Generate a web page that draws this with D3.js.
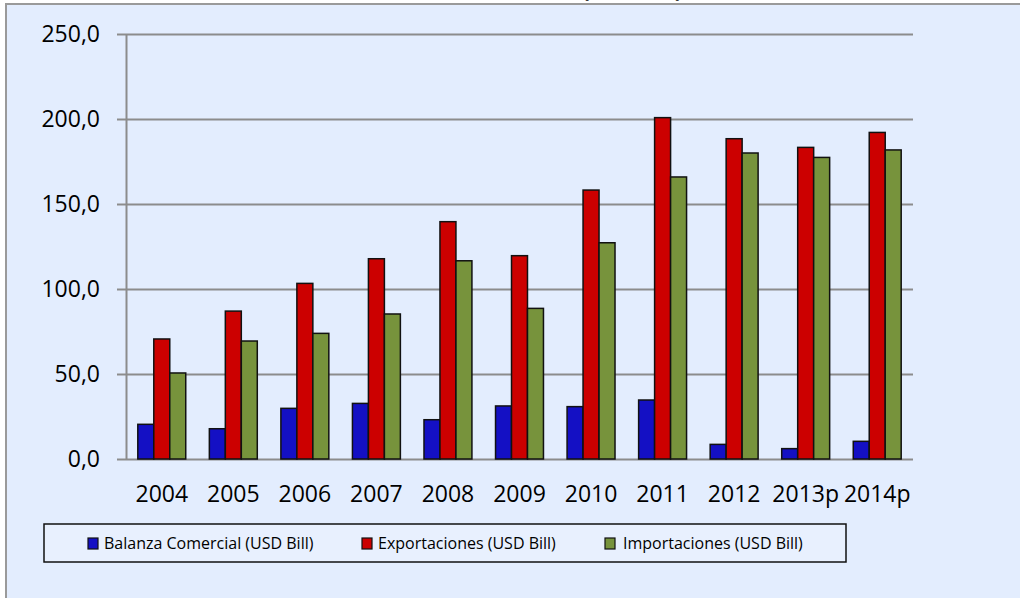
<!DOCTYPE html>
<html>
<head>
<meta charset="utf-8">
<script src="https://cdn.jsdelivr.net/npm/d3@7"></script>
<style>
  body { margin: 0; background: #ffffff; }
  text { font-family: "Open Sans", sans-serif; fill: #000; }
</style>
</head>
<body>
<div id="bar-chart-dataviz"></div>
<script>
// data
const years = ["2004", "2005", "2006", "2007", "2008", "2009", "2010", "2011", "2012", "2013p", "2014p"]
const balanza = [20.4, 17.8, 29.8, 32.7, 23.1, 31.2, 30.8, 34.7, 8.6, 6.1, 10.4]
const exportaciones = [70.6, 87.0, 103.3, 117.8, 139.6, 119.6, 158.2, 200.8, 188.4, 183.3, 192.1]
const importaciones = [50.6, 69.4, 73.9, 85.3, 116.6, 88.6, 127.2, 165.9, 180.0, 177.4, 181.8]
const seriesNames = ["Balanza Comercial (USD Bill)", "Exportaciones (USD Bill)", "Importaciones (USD Bill)"]
const yTicks = [0, 50, 100, 150, 200, 250]

const colors = ["#1410c4", "#cc0000", "#77933c"]
const series = [balanza, exportaciones, importaciones]

// set the dimensions and margins of the graph
const margin = {top: 34, right: 107, bottom: 139, left: 126}
const width = 1020 - margin.left - margin.right
const height = 598 - margin.top - margin.bottom

const svg = d3.select("#bar-chart-dataviz")
  .append("svg")
  .attr("width", 1020)
  .attr("height", 598)

// chart area background + border
svg.append("rect")
  .attr("x", 6).attr("y", 4)
  .attr("width", 1030).attr("height", 610)
  .attr("fill", "#e3edfe")
  .attr("stroke", "#9a9a9a")
  .attr("stroke-width", 2)

// title, cut off at the top of the picture
svg.append("text")
  .attr("x", 582).attr("y", -3)
  .style("font-size", "22px")
  .style("font-weight", "bold")
  .text("(USD Bill)")

const g = svg.append("g")
  .attr("transform", "translate(" + margin.left + "," + margin.top + ")")

const x = d3.scaleBand()
  .domain(years)
  .range([0, width])
  .padding(0)

const xSubgroup = d3.scaleBand()
  .domain(seriesNames)
  .range([x.bandwidth() * 0.165, x.bandwidth() * 0.835])
  .padding(0)

const y = d3.scaleLinear()
  .domain([0, 250])
  .range([height, 0])

const fmt = d3.formatLocale({decimal: ",", thousands: ".", grouping: [3], currency: ["", ""]}).format(".1f")

// grid lines
g.append("g")
  .attr("class", "grid")
  .call(d3.axisLeft(y).tickValues(yTicks).tickSize(-width).tickFormat(""))
  .call(s => s.select(".domain").remove())
  .selectAll("line")
  .attr("stroke", "#8c8c8c")
  .attr("stroke-width", 2)

// Y axis with tick marks and labels
g.append("g")
  .call(d3.axisLeft(y).tickValues(yTicks).tickSizeInner(9).tickSizeOuter(0).tickPadding(17).tickFormat(fmt))
  .call(s => s.selectAll("line").attr("stroke", "#8c8c8c").attr("stroke-width", 2))
  .call(s => s.select(".domain").attr("stroke", "#8c8c8c").attr("stroke-width", 2))
  .selectAll("text")
  .style("font-size", "23px")
  .style("font-family", "'Open Sans', sans-serif")

// X axis labels
g.append("g")
  .attr("transform", "translate(0," + height + ")")
  .call(d3.axisBottom(x).tickSize(0).tickPadding(27))
  .call(s => s.select(".domain").remove())
  .selectAll("text")
  .style("font-size", "23px")
  .style("font-family", "'Open Sans', sans-serif")

// the bars
const rows = years.map((yr, i) => ({year: yr, values: series.map((s, k) => ({key: seriesNames[k], value: s[i], color: colors[k]}))}))

g.selectAll(".year")
  .data(rows)
  .enter()
  .append("g")
  .attr("class", "year")
  .attr("transform", d => "translate(" + x(d.year) + ",0)")
  .selectAll("rect")
  .data(d => d.values)
  .enter()
  .append("rect")
  .attr("x", d => xSubgroup(d.key))
  .attr("y", d => y(d.value))
  .attr("width", xSubgroup.bandwidth())
  .attr("height", d => height - y(d.value))
  .attr("fill", d => d.color)
  .attr("stroke", "#111")
  .attr("stroke-width", 1.5)

// legend
const legend = svg.append("g")
legend.append("rect")
  .attr("x", 44).attr("y", 524)
  .attr("width", 802).attr("height", 38)
  .attr("fill", "#e8f0fe")
  .attr("stroke", "#111")
  .attr("stroke-width", 1.5)

const legendX = [88, 362, 605]
const item = legend.selectAll(".item")
  .data(seriesNames)
  .enter()
  .append("g")
  .attr("class", "item")
  .attr("transform", (d, i) => "translate(" + legendX[i] + ",0)")

item.append("rect")
  .attr("x", 0).attr("y", 538)
  .attr("width", 10).attr("height", 11)
  .attr("fill", (d, i) => colors[i])
  .attr("stroke", "#111")
  .attr("stroke-width", 1.2)

item.append("text")
  .attr("x", (d, i) => i == 2 ? 18 : 16)
  .attr("y", 549)
  .style("font-size", "16px")
  .text(d => d)
</script>
</body>
</html>
